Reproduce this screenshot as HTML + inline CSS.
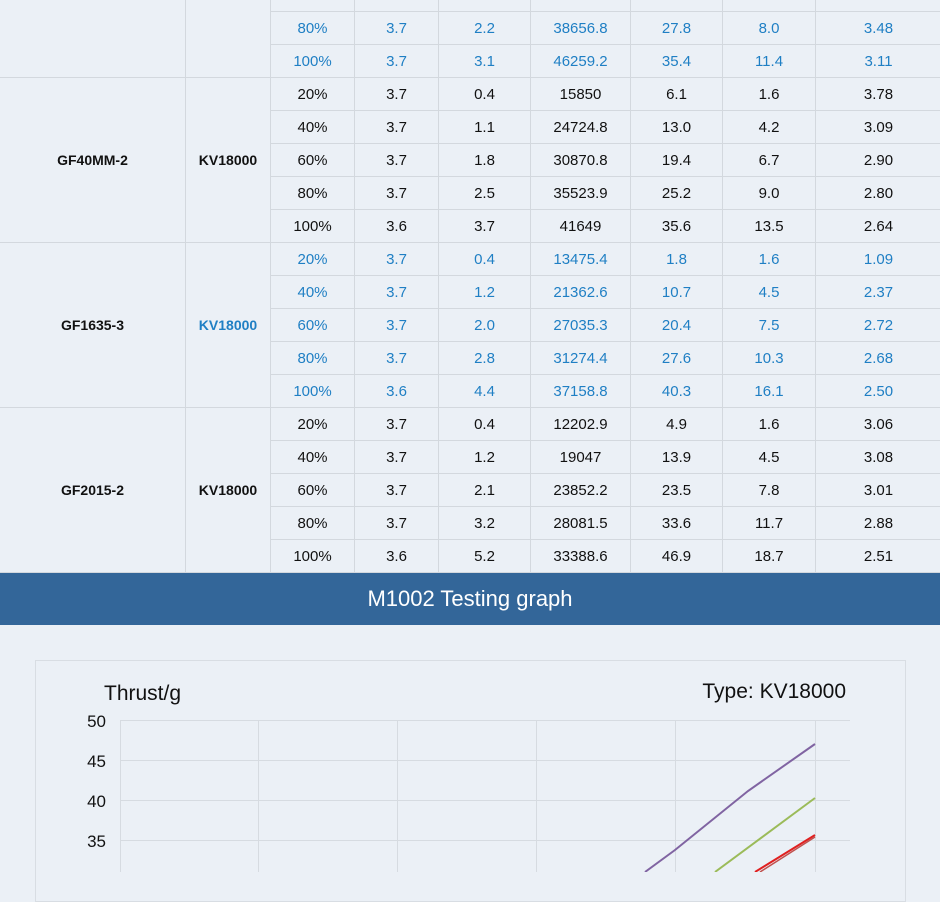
<!DOCTYPE html><html><head><meta charset="utf-8"><style>
body{margin:0;width:940px;height:872px;overflow:hidden;background:#ebf0f6;font-family:"Liberation Sans",sans-serif;position:relative}
table{position:absolute;left:-1px;top:-88px;border-collapse:collapse;table-layout:fixed;width:942px}
td{height:32px;border:1px solid #d3d8de;text-align:center;font-size:15px;color:#111;padding:0}
td.n{font-weight:bold;font-size:14px}
tr.b td{color:#1f7fc4}
td.bk{color:#111!important}
#ban{position:absolute;left:0;top:573px;width:940px;height:52px;background:#336699;color:#fff;font-size:22px;text-align:center;line-height:52px}
#box{position:absolute;left:35px;top:660px;width:869px;height:240px;border:1px solid #d8dde3}
</style></head><body>
<table>
<colgroup><col style="width:186px"><col style="width:85px"><col style="width:84px"><col style="width:84px"><col style="width:92px"><col style="width:100px"><col style="width:92px"><col style="width:93px"><col style="width:126px"></colgroup>
<tr class="b"><td rowspan="5"></td><td rowspan="5"></td><td>20%</td><td>3.7</td><td>0.4</td><td></td><td></td><td></td><td></td></tr>
<tr class="b"><td>40%</td><td>3.7</td><td>1.2</td><td></td><td></td><td></td><td></td></tr>
<tr class="b"><td>60%</td><td>3.7</td><td>1.8</td><td></td><td></td><td></td><td></td></tr>
<tr class="b"><td>80%</td><td>3.7</td><td>2.2</td><td>38656.8</td><td>27.8</td><td>8.0</td><td>3.48</td></tr>
<tr class="b"><td>100%</td><td>3.7</td><td>3.1</td><td>46259.2</td><td>35.4</td><td>11.4</td><td>3.11</td></tr>
<tr><td rowspan="5" class="n">GF40MM-2</td><td rowspan="5" class="n">KV18000</td><td>20%</td><td>3.7</td><td>0.4</td><td>15850</td><td>6.1</td><td>1.6</td><td>3.78</td></tr>
<tr><td>40%</td><td>3.7</td><td>1.1</td><td>24724.8</td><td>13.0</td><td>4.2</td><td>3.09</td></tr>
<tr><td>60%</td><td>3.7</td><td>1.8</td><td>30870.8</td><td>19.4</td><td>6.7</td><td>2.90</td></tr>
<tr><td>80%</td><td>3.7</td><td>2.5</td><td>35523.9</td><td>25.2</td><td>9.0</td><td>2.80</td></tr>
<tr><td>100%</td><td>3.6</td><td>3.7</td><td>41649</td><td>35.6</td><td>13.5</td><td>2.64</td></tr>
<tr class="b"><td rowspan="5" class="n bk">GF1635-3</td><td rowspan="5" class="n">KV18000</td><td>20%</td><td>3.7</td><td>0.4</td><td>13475.4</td><td>1.8</td><td>1.6</td><td>1.09</td></tr>
<tr class="b"><td>40%</td><td>3.7</td><td>1.2</td><td>21362.6</td><td>10.7</td><td>4.5</td><td>2.37</td></tr>
<tr class="b"><td>60%</td><td>3.7</td><td>2.0</td><td>27035.3</td><td>20.4</td><td>7.5</td><td>2.72</td></tr>
<tr class="b"><td>80%</td><td>3.7</td><td>2.8</td><td>31274.4</td><td>27.6</td><td>10.3</td><td>2.68</td></tr>
<tr class="b"><td>100%</td><td>3.6</td><td>4.4</td><td>37158.8</td><td>40.3</td><td>16.1</td><td>2.50</td></tr>
<tr><td rowspan="5" class="n">GF2015-2</td><td rowspan="5" class="n">KV18000</td><td>20%</td><td>3.7</td><td>0.4</td><td>12202.9</td><td>4.9</td><td>1.6</td><td>3.06</td></tr>
<tr><td>40%</td><td>3.7</td><td>1.2</td><td>19047</td><td>13.9</td><td>4.5</td><td>3.08</td></tr>
<tr><td>60%</td><td>3.7</td><td>2.1</td><td>23852.2</td><td>23.5</td><td>7.8</td><td>3.01</td></tr>
<tr><td>80%</td><td>3.7</td><td>3.2</td><td>28081.5</td><td>33.6</td><td>11.7</td><td>2.88</td></tr>
<tr><td>100%</td><td>3.6</td><td>5.2</td><td>33388.6</td><td>46.9</td><td>18.7</td><td>2.51</td></tr>
</table>
<div id="ban">M1002 Testing graph</div>
<div id="box"></div>
<svg style="position:absolute;left:0;top:0" width="940" height="872" font-family="Liberation Sans, sans-serif">
<g stroke="#d6dbe1" stroke-width="1">
<line x1="120" y1="720.5" x2="850" y2="720.5"/><line x1="120" y1="760.5" x2="850" y2="760.5"/><line x1="120" y1="800.5" x2="850" y2="800.5"/><line x1="120" y1="840.5" x2="850" y2="840.5"/>
<line x1="120.5" y1="720" x2="120.5" y2="872"/><line x1="258.5" y1="720" x2="258.5" y2="872"/><line x1="397.5" y1="720" x2="397.5" y2="872"/><line x1="536.5" y1="720" x2="536.5" y2="872"/><line x1="675.5" y1="720" x2="675.5" y2="872"/><line x1="815.5" y1="720" x2="815.5" y2="872"/>
</g>
<g font-size="17" fill="#111" text-anchor="end"><text x="106" y="727">50</text><text x="106" y="767">45</text><text x="106" y="807">40</text><text x="106" y="847">35</text></g>
<text x="104" y="700" font-size="21" fill="#111">Thrust/g</text>
<text x="846" y="698" font-size="21" fill="#111" text-anchor="end">Type:  KV18000</text>
<polyline points="645,872 675,850 748,791 815,744" fill="none" stroke="#8064a2" stroke-width="2"/>
<polyline points="715,872 815,798" fill="none" stroke="#9bbb59" stroke-width="2"/>
<polyline points="755,872 815,835" fill="none" stroke="#e02020" stroke-width="2"/>
<polyline points="760,872 815,837" fill="none" stroke="#c0504d" stroke-width="1.5"/>
</svg>
</body></html>
